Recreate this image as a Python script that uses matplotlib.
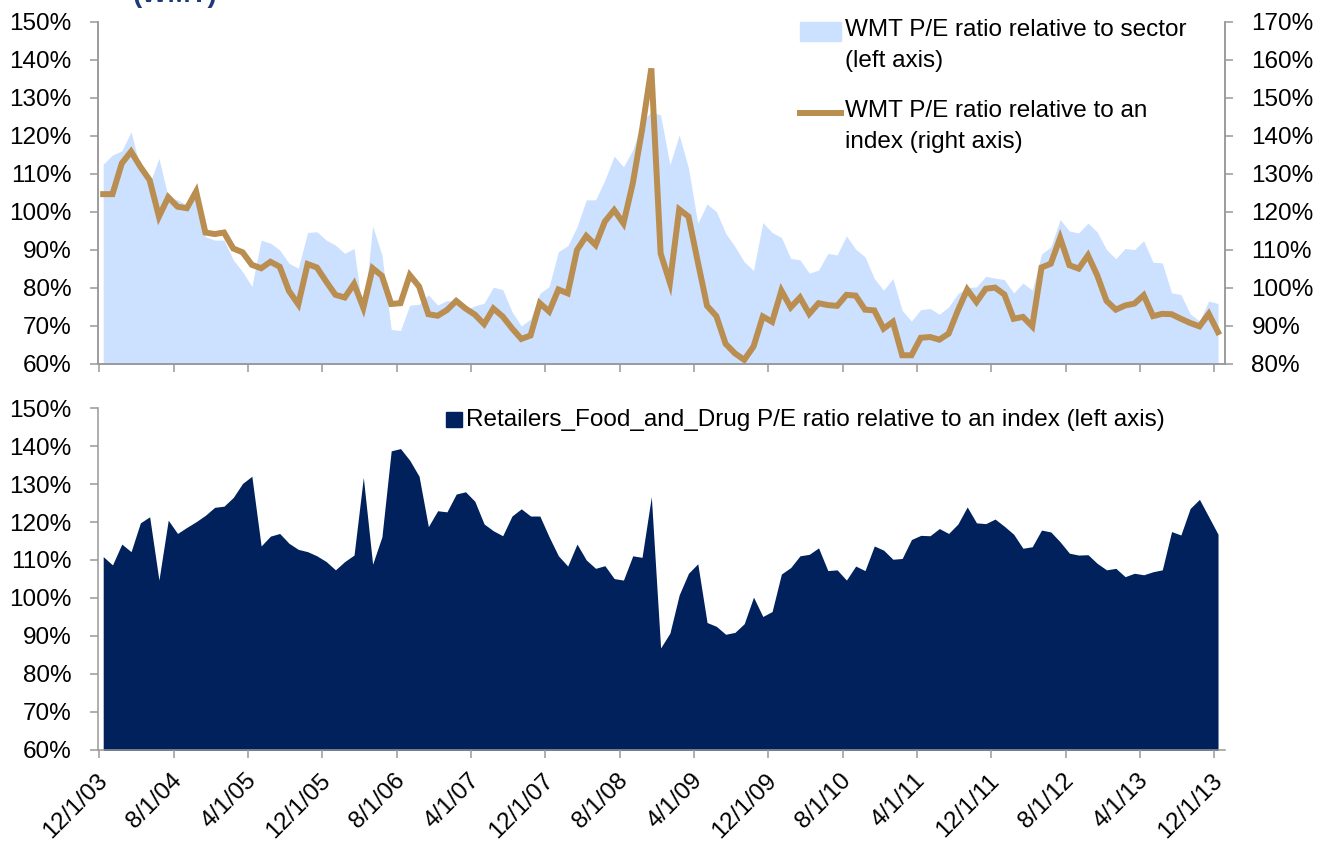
import numpy as np
import matplotlib
matplotlib.use('Agg')
import matplotlib.pyplot as plt
from matplotlib.transforms import ScaledTranslation

plt.rcParams['font.family'] = ['Liberation Sans', 'DejaVu Sans']

# monthly data 12/1/03 .. 12/1/13 (121 points), values in %
sector = [112.6, 115.0, 116.1, 121.1, 111.5, 107.4, 114.1, 103.9, 103.2, 101.8,
          104.2, 93.5, 92.6, 92.6, 87.4, 84.3, 80.4, 92.6, 91.8, 90.0,
          86.5, 85.2, 94.6, 94.8, 92.6, 91.3, 89.1, 90.4, 72.5, 96.3,
          88.7, 69.1, 68.8, 75.5, 75.7, 78.2, 75.5, 76.7, 76.4, 74.2,
          75.3, 76.0, 80.2, 79.6, 73.8, 70.0, 71.8, 78.6, 80.4, 89.6,
          91.1, 96.1, 103.2, 103.2, 108.4, 114.7, 111.9, 116.3, 123.8, 126.4,
          125.5, 112.4, 120.3, 111.5, 97.0, 102.1, 100.1, 94.4, 90.9, 86.9,
          84.6, 97.2, 94.6, 93.3, 87.8, 87.4, 83.9, 84.7, 89.1, 88.7,
          93.7, 90.2, 88.2, 82.5, 79.4, 82.5, 74.1, 71.3, 74.3, 74.6,
          73.1, 75.0, 78.5, 80.1, 80.3, 83.1, 82.6, 82.2, 78.7, 81.3,
          79.4, 88.9, 90.8, 98.0, 95.0, 94.5, 97.1, 94.7, 90.1, 87.7,
          90.4, 90.1, 92.4, 86.8, 86.6, 78.7, 78.3, 73.2, 71.3, 76.6,
          75.9]

wmt_index = [124.7, 124.7, 132.8, 135.9, 131.9, 128.4, 118.8, 123.9, 121.4, 121.0,
             125.4, 114.6, 114.2, 114.6, 110.4, 109.4, 106.1, 105.2, 106.9, 105.6,
             99.2, 95.7, 106.3, 105.4, 101.7, 98.2, 97.5, 101.1, 94.8, 105.2,
             103.2, 95.8, 96.0, 103.4, 100.4, 93.1, 92.7, 94.2, 96.6, 94.6,
             93.0, 90.5, 94.6, 92.5, 89.4, 86.6, 87.5, 96.0, 93.8, 99.6,
             98.6, 110.0, 113.7, 111.3, 117.5, 120.5, 117.0, 127.5, 141.6, 157.8,
             109.1, 101.4, 120.7, 118.8, 106.9, 95.3, 92.6, 85.3, 82.8, 81.1,
             84.6, 92.5, 91.1, 99.3, 94.9, 97.5, 93.2, 96.0, 95.5, 95.3,
             98.2, 98.0, 94.3, 94.1, 89.3, 91.1, 82.3, 82.3, 86.9, 87.1,
             86.4, 88.0, 94.1, 99.6, 96.3, 99.8, 100.1, 98.3, 91.9, 92.4,
             89.9, 105.4, 106.4, 113.2, 106.0, 105.1, 108.6, 103.3, 96.6, 94.3,
             95.4, 95.9, 98.1, 92.6, 93.2, 93.1, 91.9, 90.8, 89.9, 93.2,
             88.4]

retail = [110.9, 108.7, 114.2, 112.2, 119.8, 121.4, 104.7, 120.5, 117.0, 118.6,
          120.1, 121.8, 123.9, 124.2, 126.5, 130.2, 132.1, 113.7, 116.3, 117.0,
          114.4, 112.8, 112.2, 111.1, 109.6, 107.4, 109.6, 111.3, 131.8, 108.9,
          116.1, 138.8, 139.4, 136.3, 132.1, 118.8, 123.0, 122.7, 127.4, 128.0,
          125.5, 119.5, 117.7, 116.4, 121.6, 123.5, 121.6, 121.6, 116.1, 111.1,
          108.4, 114.2, 110.0, 107.8, 108.5, 105.1, 104.7, 111.1, 110.7, 126.7,
          86.8, 90.7, 100.8, 106.5, 109.0, 93.5, 92.5, 90.4, 90.9, 93.2,
          100.2, 95.1, 96.4, 106.3, 108.0, 111.1, 111.5, 113.2, 107.2, 107.4,
          104.7, 108.4, 107.2, 113.7, 112.6, 110.2, 110.4, 115.4, 116.5, 116.4,
          118.3, 117.0, 119.5, 124.0, 119.8, 119.6, 120.8, 118.9, 116.8, 113.1,
          113.5, 117.9, 117.4, 114.8, 111.8, 111.3, 111.4, 109.1, 107.4, 107.8,
          105.6, 106.5, 106.1, 106.9, 107.4, 117.5, 116.6, 123.6, 126.0, 121.4,
          116.8]

tick_labels = ['12/1/03', '8/1/04', '4/1/05', '12/1/05', '8/1/06', '4/1/07',
               '12/1/07', '8/1/08', '4/1/09', '12/1/09', '8/1/10', '4/1/11',
               '12/1/11', '8/1/12', '4/1/13', '12/1/13']

label_sector = 'WMT P/E ratio relative to sector\n(left axis)'
label_index = 'WMT P/E ratio relative to an\nindex (right axis)'
label_retail = 'Retailers_Food_and_Drug P/E ratio relative to an index (left axis)'

months = np.arange(len(sector)) + 0.4
tick_pos = np.arange(0, 121, 8)

light_blue = '#cce0ff'
brown = '#b98e50'
navy = '#00215b'
grey = '#999999'
fs = 17.5

fig = plt.figure(figsize=(13.25, 8.44), dpi=100)
W, H = 1325, 844

def box(x0, y0, x1, y1):
    return [x0 / W, 1 - y1 / H, (x1 - x0) / W, (y1 - y0) / H]

def style(ax, sides):
    for s in ['top', 'bottom', 'left', 'right']:
        ax.spines[s].set_visible(s in sides)
        ax.spines[s].set_color(grey)
        ax.spines[s].set_linewidth(1.1)
    ax.tick_params(direction='out', length=6, width=1.1, color=grey,
                   labelsize=fs, pad=13)

# heading cropped off at the very top (only its lower edge shows)
fig.text(133 / W, 1 - 2.5 / H, '(WMT)', fontsize=20, fontweight='bold',
         color='#1f3a7a', va='baseline')

# ---- top panel
ax1 = fig.add_axes(box(98, 22, 1225, 364))
ax1.fill_between(months, sector, 0, color=light_blue, lw=0)
ax1.set_ylim(60, 150)
ax1.set_yticks(np.arange(60, 151, 10))
ax1.set_yticklabels([f'{v}%' for v in range(60, 151, 10)])
ax1.set_xlim(-0.16, 121.15)
ax1.set_xticks(tick_pos)
ax1.set_xticklabels([])
style(ax1, ['bottom', 'left', 'right'])

ax2 = ax1.twinx()
ax2.plot(months, wmt_index, color=brown, lw=4.3, solid_joinstyle='miter')
ax2.set_ylim(80, 170)
ax2.set_yticks(np.arange(80, 171, 10))
ax2.set_yticklabels([f'{v}%' for v in range(80, 171, 10)])
style(ax2, ['bottom', 'left', 'right'])

# legend of top panel (handles sit on the first text line)
fig.patches.append(plt.Rectangle((800 / W, 1 - 41 / H), 41 / W, 19 / H,
                                 color=light_blue, transform=fig.transFigure))
fig.lines.append(plt.Line2D([800 / W, 841 / W], [1 - 113 / H] * 2, color=brown,
                            lw=4.3, transform=fig.transFigure))
fig.text(845 / W, 1 - 19 / H, label_sector, fontsize=fs, va='top',
         linespacing=1.55)
fig.text(845 / W, 1 - 100 / H, label_index, fontsize=fs, va='top',
         linespacing=1.55)

# ---- bottom panel
ax3 = fig.add_axes(box(98, 408.4, 1225, 749.5))
ax3.fill_between(months, retail, 0, color=navy, lw=0)
ax3.set_ylim(60, 150)
ax3.set_yticks(np.arange(60, 151, 10))
ax3.set_yticklabels([f'{v}%' for v in range(60, 151, 10)])
ax3.set_xlim(-0.16, 121.15)
ax3.set_xticks(tick_pos)
ax3.set_xticklabels(tick_labels, rotation=45, ha='right', va='center',
                    rotation_mode='anchor')
style(ax3, ['bottom', 'left'])
ax3.tick_params(axis='x', pad=14)
shift = ScaledTranslation(5 / 100, 0, fig.dpi_scale_trans)
for lab in ax3.get_xticklabels():
    lab.set_transform(lab.get_transform() + shift)

fig.patches.append(plt.Rectangle((446 / W, 1 - 427 / H), 16 / W, 15 / H,
                                 color=navy, transform=fig.transFigure))
fig.text(466 / W, 1 - 420 / H, label_retail, fontsize=fs, va='center')

fig.savefig('out.png', dpi=100)
